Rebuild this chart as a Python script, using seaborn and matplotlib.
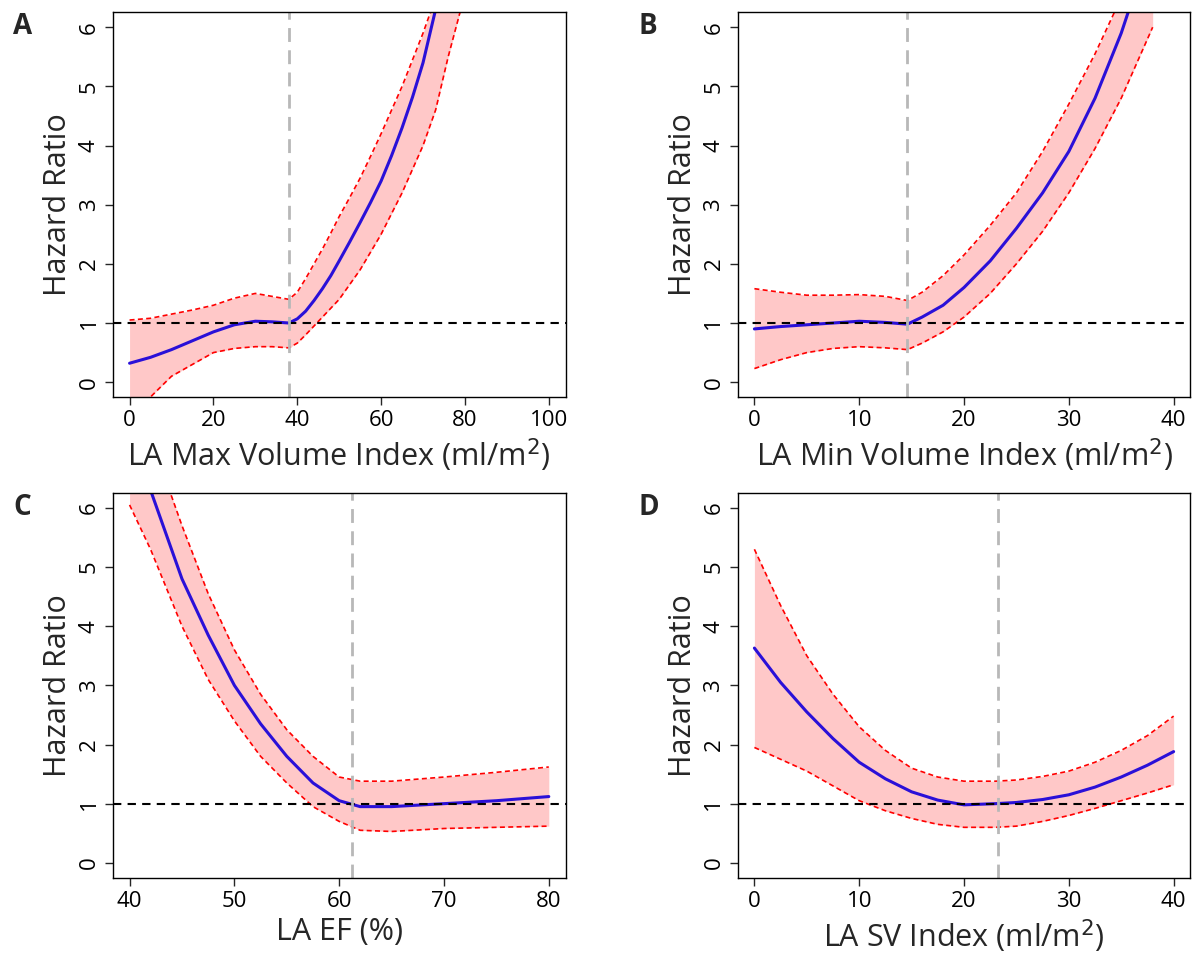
import numpy as np
import pandas as pd
import matplotlib.pyplot as plt
import seaborn as sns

sns.set_style("white")
plt.rcParams['font.family'] = ['Open Sans', 'DejaVu Sans']

# Panel A: LA max volume index
a_x = [0, 5, 10, 15, 20, 25, 30, 34, 38, 40, 42, 44, 46, 48, 50, 52.5, 55, 57.5, 60, 62.5, 65, 67.5, 70, 73, 76, 79]
a_fit = [0.32, 0.42, 0.55, 0.7, 0.85, 0.97, 1.03, 1.02, 1.0, 1.07, 1.2, 1.38, 1.58, 1.8, 2.05, 2.37, 2.7, 3.04, 3.4, 3.83, 4.3, 4.82, 5.4, 6.3, 7.0, 7.7]
a_up = [1.05, 1.08, 1.15, 1.22, 1.3, 1.42, 1.5, 1.45, 1.4, 1.52, 1.75, 2.0, 2.25, 2.52, 2.8, 3.12, 3.45, 3.82, 4.2, 4.6, 5.0, 5.45, 5.9, 6.5, 7.2, 7.9]
a_lo = [-0.45, -0.25, 0.1, 0.3, 0.5, 0.57, 0.6, 0.6, 0.58, 0.66, 0.8, 0.95, 1.1, 1.25, 1.4, 1.65, 1.9, 2.2, 2.5, 2.85, 3.2, 3.6, 4.0, 4.6, 5.5, 6.3]
a_cut = 38

# Panel B: LA min volume index
b_x = [0, 2.5, 5, 7.5, 10, 12.5, 14.6, 16, 18, 20, 22.5, 25, 27.5, 30, 32.5, 35, 38]
b_fit = [0.9, 0.94, 0.97, 1.0, 1.03, 1.01, 0.98, 1.1, 1.3, 1.6, 2.05, 2.6, 3.2, 3.9, 4.8, 5.9, 7.5]
b_up = [1.58, 1.52, 1.47, 1.47, 1.48, 1.45, 1.38, 1.52, 1.8, 2.15, 2.65, 3.2, 3.9, 4.7, 5.55, 6.5, 8.0]
b_lo = [0.23, 0.38, 0.5, 0.57, 0.6, 0.58, 0.55, 0.66, 0.85, 1.1, 1.5, 2.0, 2.55, 3.2, 3.95, 4.8, 6.0]
b_cut = 14.6

# Panel C: LA EF
c_x = [40, 42, 45, 47.5, 50, 52.5, 55, 57.5, 60, 62, 65, 70, 75, 80]
c_fit = [7.3, 6.3, 4.8, 3.85, 3.0, 2.35, 1.8, 1.35, 1.05, 0.95, 0.95, 1.0, 1.05, 1.12]
c_up = [8.5, 7.2, 5.7, 4.55, 3.6, 2.85, 2.25, 1.8, 1.45, 1.38, 1.38, 1.45, 1.53, 1.62]
c_lo = [6.05, 5.3, 4.0, 3.1, 2.4, 1.8, 1.35, 0.95, 0.7, 0.55, 0.53, 0.58, 0.6, 0.62]
c_cut = 61.2

# Panel D: LA SV index
d_x = [0, 2.5, 5, 7.5, 10, 12.5, 15, 17.5, 20, 23, 25, 27.5, 30, 32.5, 35, 37.5, 40]
d_fit = [3.63, 3.05, 2.55, 2.1, 1.7, 1.42, 1.2, 1.06, 0.98, 1.0, 1.02, 1.07, 1.15, 1.28, 1.45, 1.65, 1.88]
d_up = [5.3, 4.35, 3.5, 2.85, 2.3, 1.9, 1.6, 1.45, 1.38, 1.38, 1.4, 1.46, 1.55, 1.7, 1.9, 2.15, 2.48]
d_lo = [1.95, 1.75, 1.55, 1.3, 1.05, 0.88, 0.75, 0.65, 0.6, 0.6, 0.62, 0.7, 0.8, 0.92, 1.05, 1.18, 1.32]
d_cut = 23.2

panels = [
    ("A", a_x, a_fit, a_up, a_lo, a_cut, "LA Max Volume Index (ml/m$^2$)", (-4, 104), [0, 20, 40, 60, 80, 100]),
    ("B", b_x, b_fit, b_up, b_lo, b_cut, "LA Min Volume Index (ml/m$^2$)", (-1.6, 41.6), [0, 10, 20, 30, 40]),
    ("C", c_x, c_fit, c_up, c_lo, c_cut, "LA EF (%)", (38.4, 81.6), [40, 50, 60, 70, 80]),
    ("D", d_x, d_fit, d_up, d_lo, d_cut, "LA SV Index (ml/m$^2$)", (-1.6, 41.6), [0, 10, 20, 30, 40]),
]

fig, axes = plt.subplots(2, 2, figsize=(12, 9.56), dpi=100)
for ax, (tag, x, fit, up, lo, cut, xlabel, xlim, xticks) in zip(axes.flat, panels):
    df = pd.DataFrame({"x": x, "fit": fit, "up": up, "lo": lo})
    ax.fill_between(df["x"], df["lo"], df["up"], color="#ffc8c8", lw=0)
    sns.lineplot(data=df, x="x", y="up", ax=ax, color="red", lw=1.2, ls=(0, (3, 2)))
    sns.lineplot(data=df, x="x", y="lo", ax=ax, color="red", lw=1.2, ls=(0, (3, 2)))
    sns.lineplot(data=df, x="x", y="fit", ax=ax, color="#2a10d8", lw=2.2)
    ax.axhline(1, color="black", ls=(0, (4, 3)), lw=1.5)
    ax.axvline(cut, color="#b8b8b8", ls=(0, (5, 3)), lw=2)
    ax.set_xlim(*xlim)
    ax.set_ylim(-0.25, 6.25)
    ax.set_xticks(xticks)
    ax.set_yticks(range(7))
    ax.tick_params(axis="both", labelsize=16, labelcolor="black", length=6, width=1,
                   direction="out", bottom=True, left=True)
    for lab in ax.get_yticklabels():
        lab.set_rotation(90)
        lab.set_va("center")
    ax.set_xlabel(xlabel, fontsize=22)
    ax.set_ylabel("Hazard Ratio", fontsize=22)
    for s in ax.spines.values():
        s.set_color("black")
        s.set_linewidth(1)
    ax.text(-0.22, 1.0, tag, transform=ax.transAxes, fontsize=20, fontweight="bold", va="top")

fig.subplots_adjust(left=0.094, right=0.992, top=0.987, bottom=0.082, wspace=0.38, hspace=0.25)
fig.savefig("out.png")
